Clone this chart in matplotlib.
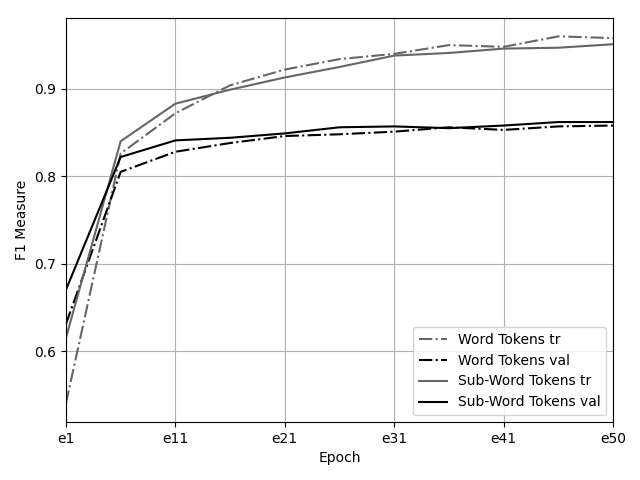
import numpy as np
import matplotlib

matplotlib.use("Agg")
import matplotlib.pyplot as plt

EPOCH_LABELS = ["e1", "e11", "e21", "e31", "e41", "e50"]

word_tr = [0.540, 0.826, 0.872, 0.904, 0.922, 0.934, 0.940, 0.950, 0.948, 0.960, 0.958]
word_val = [0.631, 0.805, 0.828, 0.838, 0.846, 0.848, 0.851, 0.856, 0.853, 0.857, 0.858]
sub_tr = [0.615, 0.840, 0.883, 0.899, 0.913, 0.925, 0.938, 0.941, 0.946, 0.947, 0.951]
sub_val = [0.670, 0.822, 0.841, 0.844, 0.849, 0.856, 0.857, 0.855, 0.858, 0.862, 0.862]

x = np.arange(len(word_tr))

fig, ax = plt.subplots(figsize=(6.4, 4.8), dpi=100)
ax.plot(x, word_tr, color="0.4", linestyle="-.", linewidth=1.5, label="Word Tokens tr")
ax.plot(x, word_val, color="black", linestyle="-.", linewidth=1.5, label="Word Tokens val")
ax.plot(x, sub_tr, color="0.4", linestyle="-", linewidth=1.5, label="Sub-Word Tokens tr")
ax.plot(x, sub_val, color="black", linestyle="-", linewidth=1.5, label="Sub-Word Tokens val")

ax.set_xlim(0, len(x) - 1)
ax.set_xticks(np.arange(0, len(x), 2))
ax.set_xticklabels(EPOCH_LABELS)
ax.set_yticks([0.6, 0.7, 0.8, 0.9])
ax.grid(True, color="#b0b0b0", linewidth=0.8)
ax.set_xlabel("Epoch")
ax.set_ylabel("F1 Measure")
ax.legend(loc="lower right")

fig.subplots_adjust(left=0.103, right=0.958, top=0.9625, bottom=0.121)
fig.savefig("out.png")
